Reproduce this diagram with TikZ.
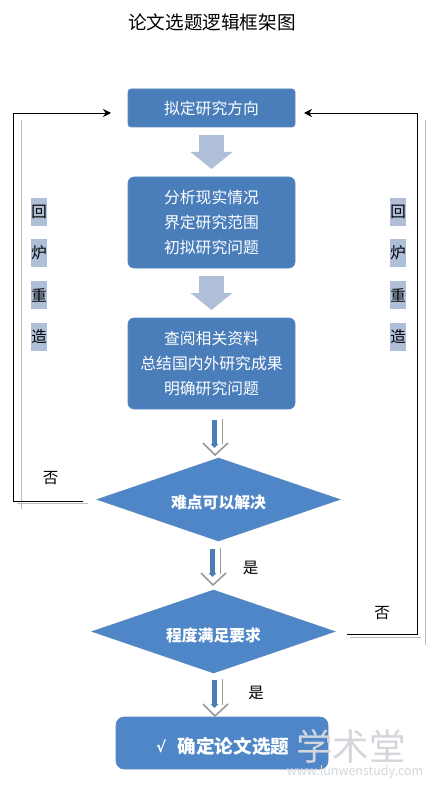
\documentclass[tikz,border=0pt]{standalone}
\usepackage{fontspec}
\setmainfont{Noto Sans CJK SC}
\newfontfamily\symfont{DejaVu Sans}
\usetikzlibrary{shapes.geometric,arrows.meta}
\definecolor{boxblue}{HTML}{4A7EBB}
\definecolor{boxedge}{HTML}{5A88BE}
\definecolor{diablue}{HTML}{4F86C8}
\definecolor{paleblue}{HTML}{B0BFD8}
\definecolor{shadowgray}{HTML}{BDBDBD}
\definecolor{shaftblue}{HTML}{4A7EB5}
\definecolor{markgray}{HTML}{D3D6DB}
\tikzset{
  x=1pt,y=-1pt,
  every node/.style={inner sep=0pt,outer sep=0pt},
  flowbox/.style={rectangle,rounded corners=6pt,fill=boxblue,draw=boxedge,line width=.6pt,minimum width=167pt,text=white,font=\fontsize{15.8pt}{25.4pt}\selectfont,align=center},
  decision/.style={diamond,fill=diablue,draw=boxedge,line width=.5pt,minimum width=243pt,minimum height=83pt,aspect=2.93},
  dectext/.style={text=white,font=\fontsize{15.8pt}{18pt}\selectfont\bfseries},
  sidelabel/.style={fill=paleblue,text=black,minimum width=16pt,minimum height=28pt,font=\fontsize{15.5pt}{18pt}\selectfont},
  plainlabel/.style={text=black,font=\fontsize{15.5pt}{18pt}\selectfont},
  bigarrow/.style={line width=25pt,color=paleblue,shorten <=8pt,shorten >=8pt,-{Triangle[length=17pt,width=41pt]}},
  chevron/.style={line width=1.6pt,draw=black!40,line join=miter},
  thinedge/.style={line width=.7pt,draw=black!40},
  thinshaft/.style={line width=5.5pt,draw=shaftblue,-{Triangle[length=4pt,width=7.5pt,color=shaftblue]}},
  loopline/.style={line width=.9pt,draw=black},
  loopend/.style={loopline,-{Stealth[length=8pt,width=8pt]}},
  loopshadow/.style={line width=1pt,draw=shadowgray},
}
\begin{document}
\begin{tikzpicture}
\useasboundingbox (0,0) rectangle (437,791);
\fill[white] (0,0) rectangle (437,791);

\node[font=\fontsize{18.6pt}{20pt}\selectfont] (title) at (212,22) {论文选题逻辑框架图};

\node[flowbox,minimum height=38pt,rounded corners=3pt] (b1) at (211.5,108) {拟定研究方向};
\node[flowbox,minimum height=91pt] (b2) at (211.5,222.5) {分析现实情况\\界定研究范围\\初拟研究问题};
\node[flowbox,minimum height=91pt] (b3) at (211.5,363.5) {查阅相关资料\\总结国内外研究成果\\明确研究问题};
\node[decision] (d1) at (218.5,499.5) {};
\node[dectext] (d1t) at (218.5,503) {难点可以解决};
\node[decision] (d2) at (213.5,631.5) {};
\node[dectext] (d2t) at (213.5,635) {程度满足要求};
\node[flowbox,rounded corners=8pt,fill=diablue,minimum width=212pt,minimum height=52pt] (b4) at (222,743) {};
\node[dectext,font=\fontsize{18.6pt}{20pt}\selectfont\bfseries] (b4t) at (233.5,746) {确定论文选题};
\node[text=white,font=\symfont\fontsize{15pt}{18pt}\selectfont\bfseries] (b4c) at (161,746) {√};

% block arrows
\draw[bigarrow] (b1.south) -- (b2.north);
\draw[bigarrow] (b2.south) -- (b3.north);

% thin arrows: grey chevron and edge with blue shaft
\coordinate (a3s) at (214.5,420);
\coordinate (a3e) at (214.5,448);
\draw[chevron] (203,443) -- (215,455) -- (228,443);
\draw[thinedge] (222,419) -- (222,444);
\draw[thinshaft] (a3s) -- (a3e);

\coordinate (a4s) at (212.5,549);
\coordinate (a4e) at (212.5,577);
\draw[chevron] (201,573) -- (213,585) -- (226,573);
\draw[thinedge] (220,548) -- (220,574);
\draw[thinshaft] (a4s) -- (a4e);

\coordinate (a5s) at (214.5,680);
\coordinate (a5e) at (214.5,708);
\draw[chevron] (203,704) -- (215,716) -- (228,704);
\draw[thinedge] (222,679) -- (222,705);
\draw[thinshaft] (a5s) -- (a5e);

% loop shadows
\draw[loopshadow] (21,120) -- (21,509);
\draw[loopshadow] (17,503.5) -- (88,503.5);
\draw[loopshadow] (425,120) -- (425,645);
\draw[loopshadow] (350,637) -- (421,637);

% loop connectors
\coordinate (ln) at (13,501);
\coordinate (lt) at (13,113);
\coordinate (rn) at (417,634);
\coordinate (rt) at (417,113);
\coordinate (lout) at ([xshift=-14pt,yshift=-1.5pt]d1.west);
\coordinate (rout) at ([xshift=12pt,yshift=-2.5pt]d2.east);
\coordinate (lin) at ([xshift=-17pt,yshift=-5pt]b1.west);
\coordinate (rin) at ([xshift=9pt,yshift=-5pt]b1.east);
\draw[loopend] (lout) -- (ln) -- (lt) -- (lin);
\draw[loopend] (rout) -- (rn) -- (rt) -- (rin);

% side labels
\node[sidelabel] (l1) at (39,212) {回};
\node[sidelabel] (l2) at (39,253) {炉};
\node[sidelabel] (l3) at (39,295) {重};
\node[sidelabel] (l4) at (39,337) {造};
\node[sidelabel] (r1) at (398,212) {回};
\node[sidelabel] (r2) at (398,253) {炉};
\node[sidelabel] (r3) at (398,295) {重};
\node[sidelabel] (r4) at (398,337) {造};

\node[plainlabel] (no1) at (50.5,478) {否};
\node[plainlabel] (yes1) at (250.5,568) {是};
\node[plainlabel] (no2) at (382,613) {否};
\node[plainlabel] (yes2) at (256,693) {是};

% watermark
\node[text=markgray,font=\fontsize{36.5pt}{38pt}\selectfont] (wm1) at (351,746) {学术堂};
\node[text=markgray,font=\fontsize{12.5pt}{14pt}\selectfont] (wm2) at (355,772) {www.lunwenstudy.com};
\end{tikzpicture}
\end{document}
